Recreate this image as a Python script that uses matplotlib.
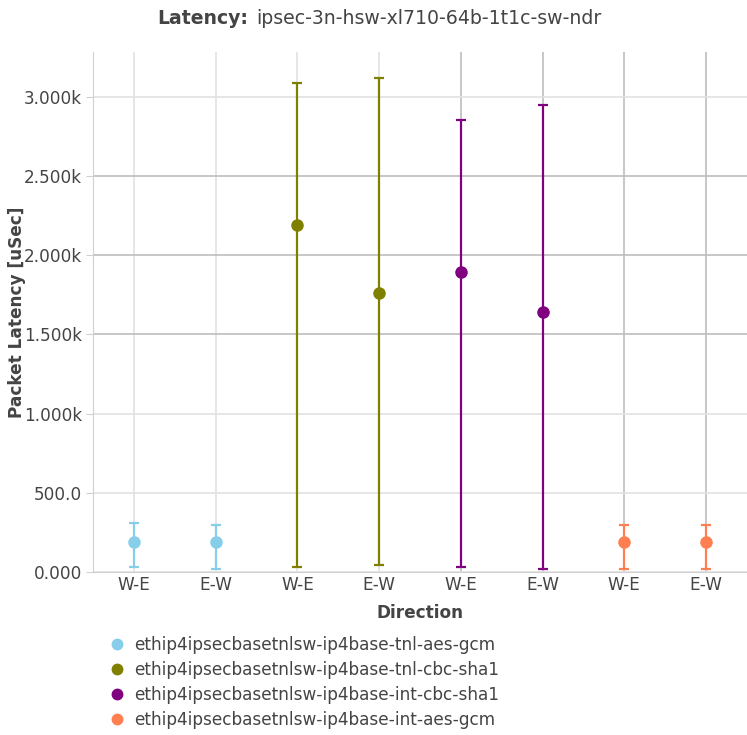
import matplotlib
matplotlib.use("Agg")
import matplotlib.pyplot as plt
from matplotlib.ticker import FuncFormatter, FixedLocator
from matplotlib.lines import Line2D
import numpy as np

plt.rcParams['font.family'] = ['DejaVu Sans']

directions = ["W-E", "E-W", "W-E", "E-W", "W-E", "E-W", "W-E", "E-W"]
series_names = [
    "ethip4ipsecbasetnlsw-ip4base-tnl-aes-gcm",
    "ethip4ipsecbasetnlsw-ip4base-tnl-cbc-sha1",
    "ethip4ipsecbasetnlsw-ip4base-int-cbc-sha1",
    "ethip4ipsecbasetnlsw-ip4base-int-aes-gcm",
]
series_colors = ["#87CEEB", "#808000", "#800080", "#FF7F50"]
# avg, min, max per direction (W-E, E-W)
avg_vals = [[189, 192], [2192, 1760], [1895, 1642], [187, 187]]
min_vals = [[32, 21], [32, 44], [32, 21], [21, 21]]
max_vals = [[309, 299], [3088, 3122], [2853, 2951], [299, 299]]
y_ticks = [0, 500, 1000, 1500, 2000, 2500, 3000]

W, H = 747, 735
fig = plt.figure(figsize=(W/100, H/100), dpi=100)
ax = fig.add_axes([93/W, 1-572/H, (747-93)/W, (572-52)/H])

text_color = "#444444"
fs = 12.2
for i, (name, col) in enumerate(zip(series_names, series_colors)):
    xs = np.array([2*i, 2*i+1])
    a = np.array(avg_vals[i]); lo = np.array(min_vals[i]); hi = np.array(max_vals[i])
    ax.errorbar(xs, a, yerr=[a-lo, hi-a], fmt='o', color=col, ms=8,
                elinewidth=1.6, capsize=3.3, capthick=1.6, zorder=3)

ax.set_xlim(-0.5, 7.5)
ax.set_ylim(0, 3284)
ax.set_xticks(range(len(directions)))
ax.set_xticklabels(directions)
ax.yaxis.set_major_locator(FixedLocator(y_ticks))

def fmt(v, pos):
    if v == 0:
        return "0.000"
    if v < 1000:
        return f"{v:.1f}"
    return f"{v/1000:.3f}k"
ax.yaxis.set_major_formatter(FuncFormatter(fmt))

ax.grid(True, zorder=0)
ax.set_axisbelow(True)
light = "#e2e2e2"; dark = "#bdbdbd"
for j, gl in enumerate(ax.xaxis.get_gridlines()):
    gl.set_color(dark if j >= 4 else light); gl.set_linewidth(1.2)
for j, gl in enumerate(ax.yaxis.get_gridlines()):
    gl.set_color(dark if y_ticks[j] in (1500, 2000, 2500) else light); gl.set_linewidth(1.2)

for s in ["top", "right"]:
    ax.spines[s].set_visible(False)
ax.spines["left"].set_color("#d0d0d0")
ax.spines["bottom"].set_color("#d0d0d0")
ax.tick_params(axis='y', length=5, color="#d0d0d0", labelsize=fs, labelcolor=text_color, pad=3)
ax.tick_params(axis='x', length=0, labelsize=fs, labelcolor=text_color, pad=3)

ax.set_xlabel("Direction", fontsize=fs, fontweight='bold', color=text_color, labelpad=7)
ax.set_ylabel("Packet Latency [uSec]", fontsize=fs, fontweight='bold', color=text_color)
ax.yaxis.set_label_coords(-0.103, 0.5)

fig.text(248/W, 1-18/H, "Latency:", ha='right', va='center', fontsize=13.6, fontweight='bold', color=text_color)
fig.text(256/W, 1-18/H, "ipsec-3n-hsw-xl710-64b-1t1c-sw-ndr", ha='left', va='center', fontsize=13.6, color=text_color)

handles = [Line2D([], [], marker='o', linestyle='none', color=c, markersize=7.5) for c in series_colors]
leg = fig.legend(handles, series_names, loc='upper left', bbox_to_anchor=(98/W, 1-629/H),
                 frameon=False, fontsize=fs, handletextpad=0.25, labelspacing=0.42,
                 borderaxespad=0, handlelength=1.5)
for t in leg.get_texts():
    t.set_color(text_color)

fig.savefig("out.png", dpi=100)
